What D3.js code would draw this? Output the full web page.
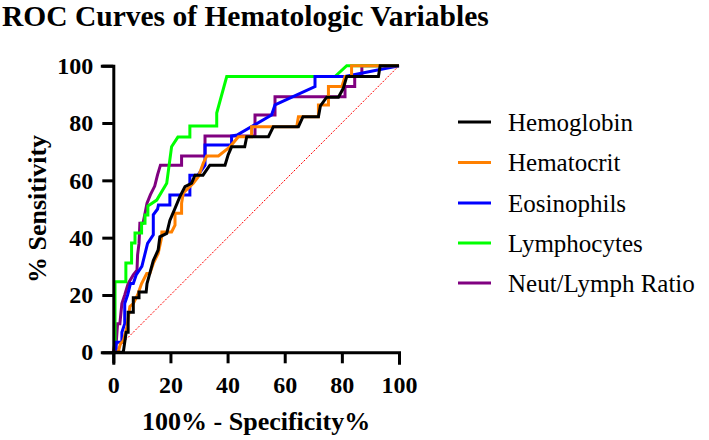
<!DOCTYPE html>
<html><head><meta charset="utf-8">
<script src="https://cdn.jsdelivr.net/npm/d3@7"></script>
<style>body{margin:0;background:#fff}svg{display:block}text{font-family:"Liberation Serif","Times New Roman",serif}</style>
</head><body>
<svg id="chart" width="709" height="440"></svg>
<script>
const seriesNames = ["Hemoglobin","Hematocrit","Eosinophils","Lymphocytes","Neut/Lymph Ratio"];
const seriesColors = ["#000000","#FF8000","#0000FF","#00FF00","#800080"];
const xTicks = [0,20,40,60,80,100];
const yTicks = [0,20,40,60,80,100];

const hemoglobinX = [0,3.5,4.5,5.2,5.2,7,7,9,9,11.5,11.8,12.8,14,15.7,16.3,18.7,19.8,21.6,23.3,25.1,27.4,28.6,31.4,33.8,39.1,40.2,41.4,46,46.7,54.3,56,64.8,66.4,71.8,72.5,74.7,78.8,80.5,81.7,92.8,93.4,100];
const hemoglobinY = [0,0,7,7,14,14,19,19,21,21,24,27.6,32,35.7,40.3,41.5,46,50.2,54.3,57.8,59,61.8,61.8,65.3,65.3,68.9,71.7,71.7,75.2,75.2,78.7,78.7,82.2,82.2,86,89,89,92.1,96.2,96.2,100,100];

const hematocritX = [0,1.7,2.5,3.5,4.8,5.8,7,8.5,9.9,11.7,12.8,14,15.7,16.9,17,20.4,21.6,21.6,23.9,23.9,24.5,28,29.8,31.5,32.7,36.8,40.8,43.8,48.4,48.4,64.2,64.8,71.8,71.8,75.3,75.3,80,81.1,83.4,83.4,100];
const hematocritY = [0,0,3,4,9,16,17,20,24,27.5,27.5,31,34.5,40,42,42,44.4,48.5,48.5,52,55.6,59,61.3,66,68.5,68.5,71.7,75.2,75.2,78.7,78.7,82.2,82.2,86.3,86.3,92.7,92.7,96.2,96.2,100,100];

const eosinophilsX = [0,1,1,3,3,4,4,5,6,7,8,10,11,12,14,14,15.5,15.8,19.8,19.8,26.8,26.8,29.6,32.1,32.1,41.4,41.4,43.3,55.4,56.6,70.6,70.6,81.1,100];
const eosinophilsY = [0,0,3.5,3.5,7,10,17,20,24,24,27,30,34,38,41,48,50,51.4,51.4,54.9,54.9,61.8,61.8,65.3,72.3,72.3,75.5,75.8,82.8,86.3,92.7,96.2,96.2,100];

const lymphocytesX = [0,0.6,0.6,4.4,4.4,6.4,6.4,7.6,7.6,9.9,9.9,11.1,11.1,12.1,12.1,15.2,18.7,20.4,22.6,26.8,26.8,36.2,36.2,39.7,77.6,81.7,100];
const lymphocytesY = [0,0,24.6,24.6,31.2,31.2,38.1,38.1,41.6,41.6,45,45,47.9,47.9,51,53.1,59,71.7,75.1,75.1,79,79,83.5,96.2,96.2,100,100];

const nlrX = [0,0.5,1,1.5,2.3,3,4,5.2,7,8.3,8.5,9,9.3,10.4,11,11.8,13,14.5,15.5,16.5,23.9,23.9,32.1,32.1,49.6,49.6,56.6,56.6,81.1,81.1,84.5,84.5,87,87,100];
const nlrY = [0,3,3,10,10,17,20,24,27,28.7,34,38,45,45,48,52,55,58,62,65.3,65.3,68.5,68.5,75.5,75.5,82.8,82.8,89.2,89.2,92.7,92.7,96.2,96.2,100,100];

const seriesX = [hemoglobinX, hematocritX, eosinophilsX, lymphocytesX, nlrX];
const seriesY = [hemoglobinY, hematocritY, eosinophilsY, lymphocytesY, nlrY];

const svg = d3.select("#chart");
const x = d3.scaleLinear().domain([0,100]).range([113.3,399]);
const y = d3.scaleLinear().domain([0,100]).range([352.3,65.7]);

// title
svg.append("text").attr("x",2).attr("y",26).attr("font-size",29.5).attr("font-weight","bold").text("ROC Curves of Hematologic Variables");

// diagonal reference
svg.append("line").attr("x1",x(0)).attr("y1",y(0)).attr("x2",x(100)).attr("y2",y(100))
  .attr("stroke","#ff0000").attr("stroke-width",1).attr("stroke-dasharray","2,1.5");

// curves (drawn last legend entry first)
const line = d3.line().x(d=>x(d[0])).y(d=>y(d[1]));
for (let i = seriesNames.length-1; i >= 0; i--) {
  const pts = seriesX[i].map((v,j)=>[v, seriesY[i][j]]);
  svg.append("path").datum(pts).attr("d",line).attr("fill","none")
    .attr("stroke",seriesColors[i]).attr("stroke-width",3).attr("stroke-linejoin","miter");
}

// axes
const xAxis = d3.axisBottom(x).tickValues(xTicks).tickSize(11).tickPadding(13);
const yAxis = d3.axisLeft(y).tickValues(yTicks).tickSize(11).tickPadding(9);
const gx = svg.append("g").attr("transform",`translate(0,${y(0)})`).call(xAxis);
const gy = svg.append("g").attr("transform",`translate(${x(0)},0)`).call(yAxis);
[gx,gy].forEach(g=>{
  g.selectAll("path,line").attr("stroke","#000").attr("stroke-width",3);
  g.select(".domain").attr("stroke-linecap","square");
  g.selectAll("text").attr("font-family",'"Liberation Serif","Times New Roman",serif')
    .attr("font-size",24).attr("font-weight","bold").attr("fill","#000");
});

// axis titles
svg.append("text").attr("x",(x(0)+x(100))/2).attr("y",430).attr("text-anchor","middle")
  .attr("font-size",26).attr("font-weight","bold").text("100% - Specificity%");
svg.append("text").attr("transform",`translate(46,${(y(0)+y(100))/2}) rotate(-90)`).attr("text-anchor","middle")
  .attr("font-size",26).attr("font-weight","bold").text("% Sensitivity");

// legend
const legendY = [122,162.5,203,243,283];
seriesNames.forEach((n,i)=>{
  svg.append("line").attr("x1",458).attr("x2",491).attr("y1",legendY[i]).attr("y2",legendY[i])
    .attr("stroke",seriesColors[i]).attr("stroke-width",3);
  svg.append("text").attr("x",508).attr("y",legendY[i]+8.5).attr("font-size",25).text(n);
});
</script>
</body></html>
